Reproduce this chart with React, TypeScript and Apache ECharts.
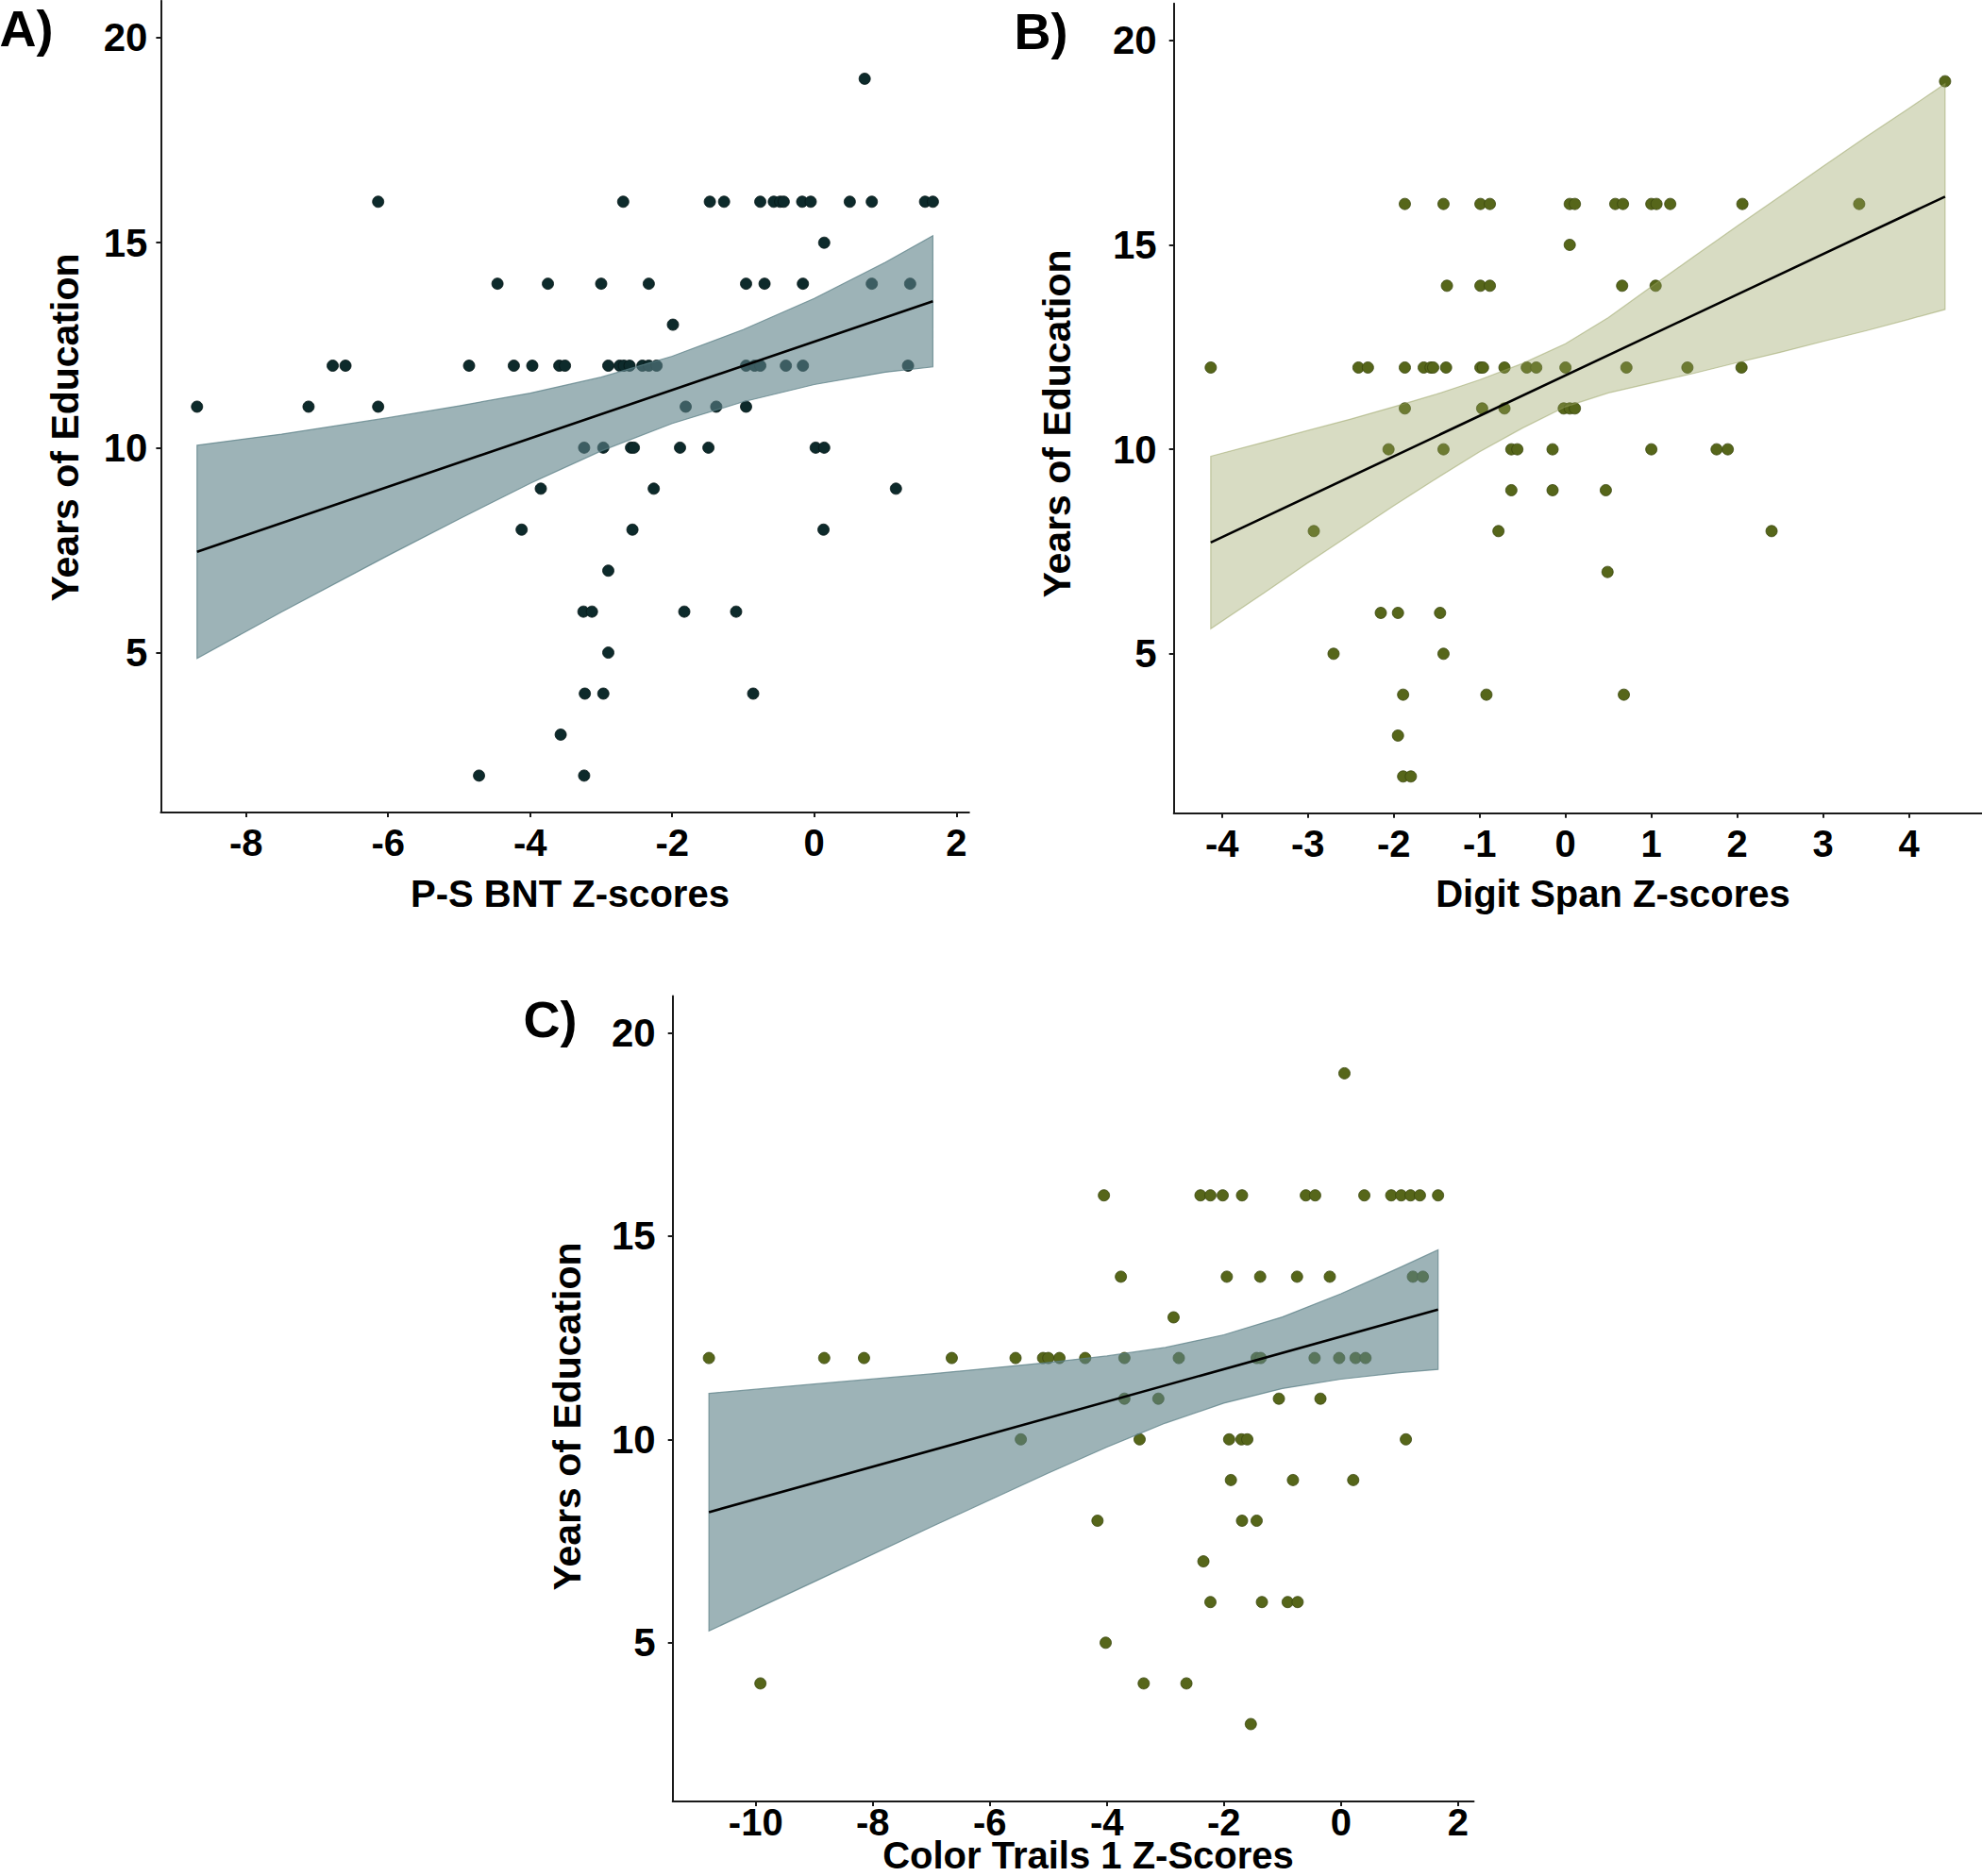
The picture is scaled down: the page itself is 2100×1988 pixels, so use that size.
import React, { useEffect, useRef } from "react";
import * as echarts from "echarts";

// ---------- Data ----------
// Panel A: P-S BNT Z-scores vs years of education
const A_LEVELS = [19, 16, 15, 14, 13, 12, 11, 10, 9, 8, 7, 6, 5, 4, 3, 2];
const A_ZSCORES = [
  [0.71],
  [-6.14, -2.69, -1.47, -1.27, -0.76, -0.57, -0.48, -0.43, -0.17, -0.05, 0.5, 0.81, 1.56, 1.67],
  [0.14],
  [-4.46, -3.75, -3.0, -2.33, -0.96, -0.7, -0.16, 0.81, 1.35],
  [-1.99],
  [-6.78, -6.6, -4.86, -4.23, -3.97, -3.59, -3.51, -2.9, -2.74, -2.68, -2.6, -2.42, -2.33, -2.22, -0.96, -0.84, -0.76, -0.4, -0.16, 1.32],
  [-8.69, -7.12, -6.14, -1.81, -1.38, -0.96],
  [-3.24, -2.97, -2.58, -2.54, -1.89, -1.49, 0.02, 0.14],
  [-3.85, -2.26, 1.15],
  [-4.12, -2.56, 0.13],
  [-2.9],
  [-3.25, -3.13, -1.83, -1.1],
  [-2.9],
  [-3.23, -2.97, -0.86],
  [-3.57],
  [-4.72, -3.24],
];
const A_FIT_X = [-8.69, 1.67];
const A_FIT_Y = [7.46, 13.57];
const A_BAND_X = [-8.69, -7.5, -6, -5, -4, -3, -2, -1, 0, 1, 1.67];
const A_BAND_UP = [10.06, 10.33, 10.73, 11.02, 11.33, 11.72, 12.23, 12.88, 13.64, 14.52, 15.17];
const A_BAND_LO = [4.86, 5.99, 7.37, 8.26, 9.13, 9.92, 10.59, 11.12, 11.54, 11.84, 11.97];

// Panel B: Digit Span Z-scores
const B_LEVELS = [19, 16, 15, 14, 12, 11, 10, 9, 8, 7, 6, 5, 4, 3, 2];
const B_ZSCORES = [
  [4.42],
  [-1.87, -1.42, -0.99, -0.88, 0.05, 0.11, 0.58, 0.67, 1.0, 1.06, 1.22, 2.06, 3.42],
  [0.05],
  [-1.38, -0.99, -0.88, 0.66, 1.05],
  [-4.13, -2.41, -2.3, -1.87, -1.65, -1.57, -1.54, -1.39, -0.99, -0.96, -0.71, -0.45, -0.34, 0.0, 0.71, 1.42, 2.05],
  [-1.87, -0.97, -0.71, -0.02, 0.05, 0.11],
  [-2.06, -1.42, -0.63, -0.56, -0.15, 1.0, 1.76, 1.89],
  [-0.63, -0.15, 0.47],
  [-2.93, -0.78, 2.4],
  [0.49],
  [-2.15, -1.95, -1.46],
  [-2.7, -1.42],
  [-1.89, -0.92, 0.68],
  [-1.95],
  [-1.89, -1.8],
];
const B_FIT_X = [-4.13, 4.42];
const B_FIT_Y = [7.72, 16.18];
const B_BAND_X = [-4.13, -3.5, -3, -2.5, -2, -1.5, -1, -0.5, 0, 0.5, 1, 1.5, 2, 2.5, 3, 3.5, 4, 4.42];
const B_BAND_UP = [9.83, 10.18, 10.46, 10.74, 11.04, 11.35, 11.7, 12.1, 12.58, 13.22, 13.98, 14.72, 15.46, 16.19, 16.92, 17.64, 18.34, 18.94];
const B_BAND_LO = [5.61, 6.5, 7.22, 7.92, 8.62, 9.29, 9.94, 10.52, 11.04, 11.38, 11.62, 11.86, 12.12, 12.37, 12.64, 12.9, 13.18, 13.42];

// Panel C: Color Trails 1 Z-Scores
const C_LEVELS = [19, 16, 14, 13, 12, 11, 10, 9, 8, 7, 6, 5, 4, 3];
const C_ZSCORES = [
  [0.06],
  [-4.05, -2.4, -2.23, -2.02, -1.69, -0.6, -0.44, 0.4, 0.86, 1.03, 1.19, 1.35, 1.66],
  [-3.76, -1.95, -1.38, -0.75, -0.19, 1.23, 1.4],
  [-2.86],
  [-10.8, -8.83, -8.15, -6.65, -5.56, -5.09, -5.0, -4.81, -4.37, -3.7, -2.77, -1.44, -1.37, -0.45, -0.03, 0.25, 0.42],
  [-3.7, -3.12, -1.06, -0.35],
  [-5.47, -3.44, -1.91, -1.7, -1.6, 1.11],
  [-1.88, -0.82, 0.21],
  [-4.16, -1.69, -1.44],
  [-2.35],
  [-2.23, -1.35, -0.91, -0.74],
  [-4.02],
  [-9.92, -3.37, -2.64],
  [-1.54],
];
const C_FIT_X = [-10.8, 1.66];
const C_FIT_Y = [8.21, 13.19];
const C_BAND_X = [-10.8, -9, -7, -5, -4, -3, -2, -1, 0, 1, 1.66];
const C_BAND_UP = [11.13, 11.36, 11.61, 11.89, 12.05, 12.26, 12.57, 13.01, 13.58, 14.22, 14.66];
const C_BAND_LO = [5.29, 6.5, 7.85, 9.17, 9.81, 10.4, 10.89, 11.25, 11.48, 11.64, 11.72];

// Tick labels
const A_XTICKS = [-8, -6, -4, -2, 0, 2];
const B_XTICKS = [-4, -3, -2, -1, 0, 1, 2, 3, 4];
const C_XTICKS = [-10, -8, -6, -4, -2, 0, 2];
const Y_TICKS = [5, 10, 15, 20];

const TITLES = {
  y: "Years of Education",
  a: "P-S BNT Z-scores",
  b: "Digit Span Z-scores",
  c: "Color Trails 1 Z-Scores",
};

// ---------- Styling ----------
const FONT = "'Liberation Sans', Arial, sans-serif";
const AXIS_COLOR = "#1a1a1a";

function toPoints(levels: number[], zs: number[][]) {
  const pts: number[][] = [];
  levels.forEach((lv, i) => zs[i].forEach((z) => pts.push([z, lv])));
  return pts;
}

function xAxis(gridIndex: number, min: number, max: number, ticks: number[], margin: number, size = 40) {
  return {
    type: "value",
    gridIndex,
    min,
    max,
    splitLine: { show: false },
    axisLine: { show: true, onZero: false, lineStyle: { color: AXIS_COLOR, width: 2 } },
    axisTick: { show: true, length: 5, inside: false, customValues: ticks, lineStyle: { color: AXIS_COLOR, width: 2 } },
    axisLabel: {
      customValues: ticks,
      margin,
      fontFamily: FONT,
      fontWeight: "bold",
      fontSize: size,
      color: "#000",
    },
  };
}

function yAxis(gridIndex: number, margin: number) {
  return {
    type: "value",
    gridIndex,
    min: 1.1,
    max: 20.9,
    splitLine: { show: false },
    axisLine: { show: true, onZero: false, lineStyle: { color: AXIS_COLOR, width: 2 } },
    axisTick: { show: true, length: 5, customValues: Y_TICKS, lineStyle: { color: AXIS_COLOR, width: 2 } },
    axisLabel: {
      customValues: Y_TICKS,
      margin,
      fontFamily: FONT,
      fontWeight: "bold",
      fontSize: 42,
      color: "#000",
    },
  };
}

function scatter(idx: number, levels: number[], zs: number[][], color: string, edge: string) {
  return {
    type: "scatter",
    xAxisIndex: idx,
    yAxisIndex: idx,
    z: 2,
    symbol: "circle",
    symbolSize: 12,
    itemStyle: { color, borderColor: edge, borderWidth: 0.8, opacity: 1 },
    data: toPoints(levels, zs),
  };
}

function band(idx: number, xs: number[], up: number[], lo: number[], fill: string, stroke: string) {
  const data = xs.map((x, i) => [x, up[i], lo[i]]);
  return {
    type: "custom",
    xAxisIndex: idx,
    yAxisIndex: idx,
    z: 3,
    silent: true,
    data,
    encode: { x: 0, y: [1, 2] },
    renderItem: (params: any, api: any) => {
      if (params.dataIndex !== 0) return null;
      const upper: number[][] = [];
      const lower: number[][] = [];
      for (let i = 0; i < data.length; i++) {
        upper.push(api.coord([data[i][0], data[i][1]]));
        lower.push(api.coord([data[i][0], data[i][2]]));
      }
      const pts = upper.concat(lower.reverse());
      return {
        type: "polygon",
        shape: { points: pts },
        style: { fill, stroke, lineWidth: 1.2 },
      };
    },
  };
}

function fit(idx: number, xs: number[], ys: number[]) {
  return {
    type: "line",
    xAxisIndex: idx,
    yAxisIndex: idx,
    z: 4,
    silent: true,
    showSymbol: false,
    symbol: "none",
    lineStyle: { color: "#000", width: 2.6 },
    data: xs.map((x, i) => [x, ys[i]]),
  };
}

function label(text: string, x: number, y: number, size: number, rotate = 0) {
  return {
    type: "text",
    x,
    y,
    rotation: rotate,
    style: {
      text,
      fontFamily: FONT,
      fontWeight: "bold",
      fontSize: size,
      fill: "#000",
      textAlign: "center",
      textVerticalAlign: "middle",
    },
  };
}

const TEAL_FILL = "rgba(92,128,135,0.6)";
const TEAL_EDGE = "rgba(92,128,135,0.75)";
const OLIVE_FILL = "rgba(149,160,93,0.37)";
const OLIVE_EDGE = "rgba(149,160,93,0.5)";
const DARK_POINT = "#0d2a2b";
const DARK_EDGE = "#061818";
const OLIVE_POINT = "#56661a";
const OLIVE_EDGE_PT = "#3a460e";

const option = {
  animation: false,
  backgroundColor: "#ffffff",
  grid: [
    { left: 170.4, top: 0.9, width: 856.4, height: 860.1 },
    { left: 1243.7, top: 3.8, width: 856.3, height: 858 },
    { left: 712.7, top: 1055.5, width: 848.8, height: 853.4 },
  ],
  xAxis: [
    xAxis(0, -9.2, 2.18, A_XTICKS, 12),
    xAxis(1, -4.56, 4.85, B_XTICKS, 12),
    xAxis(2, -11.42, 2.27, C_XTICKS, 2),
  ],
  yAxis: [yAxis(0, 14), yAxis(1, 18), yAxis(2, 18)],
  series: [
    scatter(0, A_LEVELS, A_ZSCORES, DARK_POINT, DARK_EDGE),
    band(0, A_BAND_X, A_BAND_UP, A_BAND_LO, TEAL_FILL, TEAL_EDGE),
    fit(0, A_FIT_X, A_FIT_Y),
    scatter(1, B_LEVELS, B_ZSCORES, OLIVE_POINT, OLIVE_EDGE_PT),
    band(1, B_BAND_X, B_BAND_UP, B_BAND_LO, OLIVE_FILL, OLIVE_EDGE),
    fit(1, B_FIT_X, B_FIT_Y),
    scatter(2, C_LEVELS, C_ZSCORES, OLIVE_POINT, OLIVE_EDGE_PT),
    band(2, C_BAND_X, C_BAND_UP, C_BAND_LO, TEAL_FILL, TEAL_EDGE),
    fit(2, C_FIT_X, C_FIT_Y),
  ],
  graphic: [
    label("A)", 28, 30, 54),
    label("B)", 1103, 33, 54),
    label("C)", 583, 1080, 54),
    label(TITLES.y, 69, 453, 41, Math.PI / 2),
    label(TITLES.y, 1120, 449, 41, Math.PI / 2),
    label(TITLES.y, 601, 1501, 41, Math.PI / 2),
    label(TITLES.a, 604, 947, 40),
    label(TITLES.b, 1709, 947, 40),
    label(TITLES.c, 1153, 1966, 40),
  ],
};

export default function App() {
  const ref = useRef<HTMLDivElement>(null);
  useEffect(() => {
    document.body.style.margin = "0";
    const chart = echarts.init(ref.current as HTMLDivElement, null, { renderer: "svg" });
    chart.setOption(option as any);
    return () => chart.dispose();
  }, []);
  return (
    <div
      ref={ref}
      style={{ position: "absolute", left: 0, top: 0, width: 2100, height: 1988, background: "#fff" }}
    />
  );
}
